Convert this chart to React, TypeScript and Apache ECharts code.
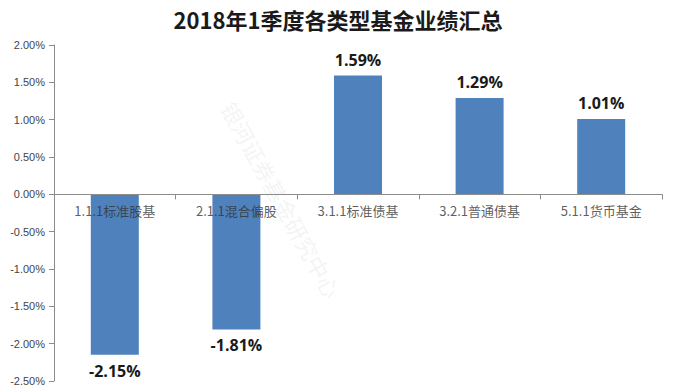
import React, { useEffect, useRef } from "react";
import * as echarts from "echarts";

const title = "2018年1季度各类型基金业绩汇总";
const categories = ["1.1.1标准股基", "2.1.1混合偏股", "3.1.1标准债基", "3.2.1普通债基", "5.1.1货币基金"];
const values = [-2.15, -1.81, 1.59, 1.29, 1.01];
const watermark = "银河证券基金研究中心";

export default function App() {
  const ref = useRef<HTMLDivElement>(null);
  useEffect(() => {
    if (!ref.current) return;
    const chart = echarts.init(ref.current, undefined, { renderer: "svg" });
    const fmt = (v: number) => v.toFixed(2) + "%";
    chart.setOption({
      animation: false,
      backgroundColor: "#ffffff",
      title: {
        text: title,
        left: "center",
        top: 3,
        textStyle: { fontFamily: "Noto Sans CJK SC", fontWeight: "bold", fontSize: 22, color: "#1a1a1a" },
      },
      graphic: [
        {
          type: "text",
          x: 238,
          y: 98,
          rotation: -61 * Math.PI / 180,
          z: 1,
          style: {
            text: watermark,
            fontFamily: "Noto Sans CJK SC",
            fontSize: 22,
            fill: "rgba(160,170,180,0.14)",
          },
        },
      ],
      grid: { left: 54, right: 14, top: 45, bottom: 7, containLabel: false, outerBoundsMode: "none" },
      xAxis: {
        type: "category",
        data: categories,
        z: 5,
        axisLine: { onZero: true, lineStyle: { color: "#8c8c8c" } },
        axisTick: { show: true, length: 5, lineStyle: { color: "#8c8c8c" } },
        axisLabel: { show: false },
      },
      yAxis: {
        type: "value",
        min: -2.5,
        max: 2,
        interval: 0.5,
        splitLine: { show: false },
        axisLine: { show: true, lineStyle: { color: "#8c8c8c" } },
        axisTick: { show: true, length: 5, lineStyle: { color: "#8c8c8c" } },
        axisLabel: { margin: 9, fontFamily: "Liberation Sans", fontSize: 11, color: "#444444", formatter: (v: number) => fmt(v) },
      },
      series: [
        {
          type: "bar",
          barWidth: 48,
          z: 2,
          itemStyle: { color: "#4F81BD" },
          data: values.map((v) => ({
            value: v,
            label: { position: v >= 0 ? "top" : "bottom" },
          })),
          label: {
            show: true,
            distance: 8,
            fontFamily: "Open Sans",
            fontWeight: "bold",
            fontSize: 16,
            color: "#1a1a1a",
            formatter: (p: any) => fmt(p.value),
          },
        },
        {
          type: "scatter",
          symbolSize: 0,
          z: 6,
          silent: true,
          data: categories.map(() => 0),
          label: {
            show: true,
            position: "bottom",
            distance: 10,
            fontFamily: "Noto Sans CJK SC",
            fontSize: 13,
            color: "#333333",
            formatter: (p: any) => p.name,
          },
        },
      ],
    });
    return () => chart.dispose();
  }, []);
  return <div ref={ref} style={{ position: "fixed", left: 0, top: 0, width: 676, height: 388 }} />;
}
